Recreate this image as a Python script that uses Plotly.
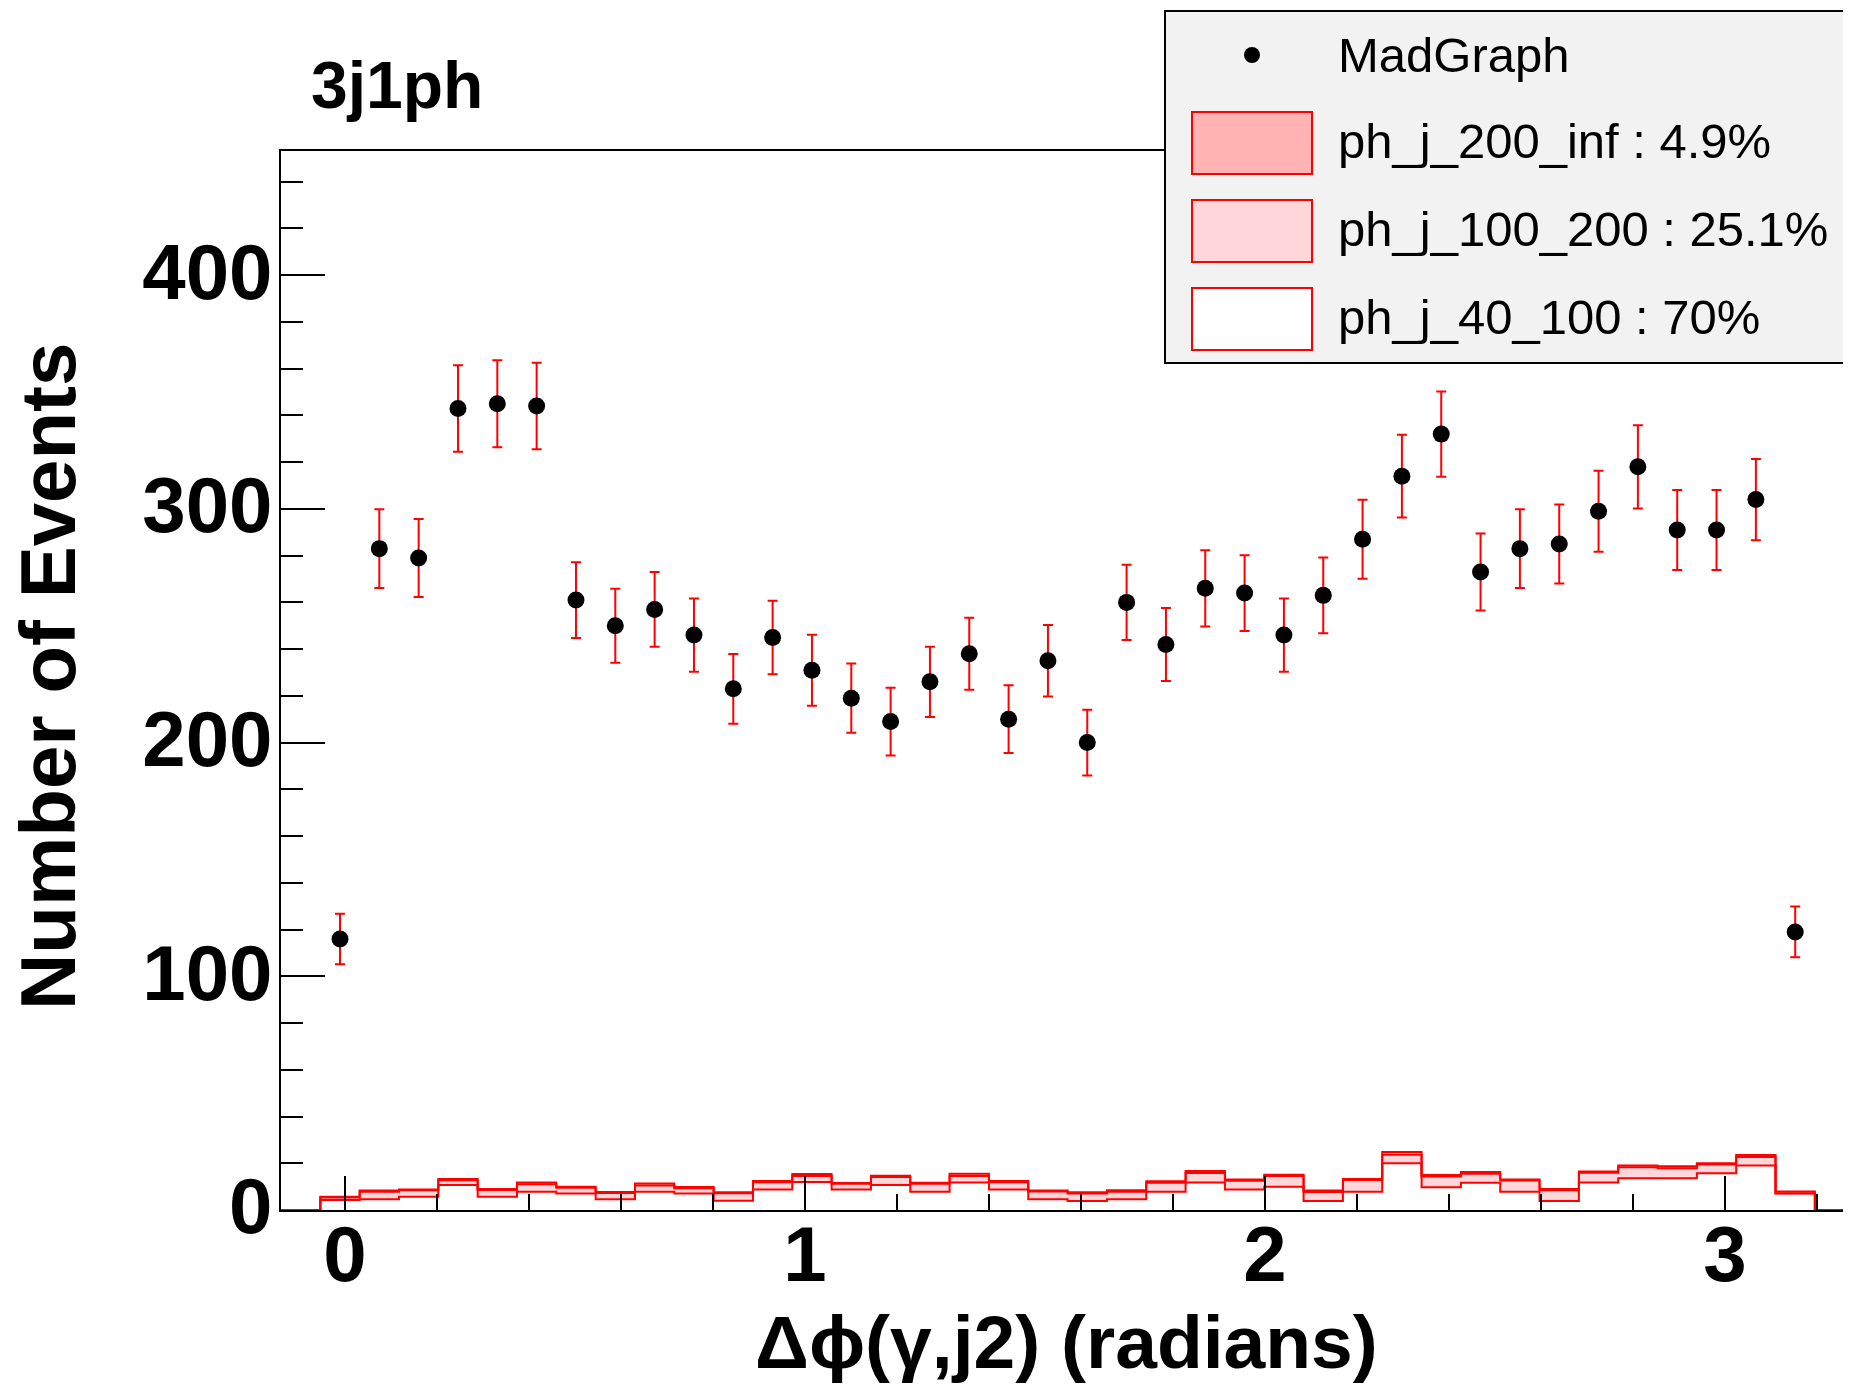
import numpy as np
import plotly.graph_objects as go

# ---------------- data ----------------
x_min = -0.139
bin_width = 0.0855
n_bins = 40  # bins 1..38 hold events; bins 0 and 39 are empty

madgraph_counts = [116, 283, 279, 343, 345, 344, 261, 250, 257, 246, 223, 245, 231, 219,
                   209, 226, 238, 210, 235, 200, 260, 242, 266, 264, 246, 263, 287, 314,
                   332, 273, 283, 285, 299, 318, 291, 291, 304, 119]
madgraph_errors = [10.8, 16.8, 16.7, 18.5, 18.6, 18.5, 16.2, 15.8, 16.0, 15.7, 14.9, 15.7,
                   15.2, 14.8, 14.5, 15.0, 15.4, 14.5, 15.3, 14.1, 16.1, 15.6, 16.3, 16.2,
                   15.7, 16.2, 16.9, 17.7, 18.2, 16.5, 16.8, 16.9, 17.3, 17.8, 17.1, 17.1,
                   17.4, 10.9]

ph_j_40_100 = [4.3, 4.6, 5.7, 10.7, 5.7, 7.8, 7.1, 4.6, 7.8, 7.1, 4.0, 8.8, 12.0, 8.8,
               10.7, 7.8, 11.8, 8.8, 4.6, 3.9, 4.6, 7.8, 11.8, 8.8, 10.0, 3.9, 7.8, 20.0,
               9.7, 11.7, 7.8, 3.9, 11.8, 13.6, 13.6, 15.7, 19.0, 7.1]
ph_j_100_200 = [1.1, 3.2, 2.7, 2.0, 2.9, 3.2, 2.4, 2.7, 2.7, 2.2, 3.2, 3.1, 2.5, 2.4,
                3.4, 3.4, 2.8, 3.1, 3.3, 3.2, 3.2, 3.9, 4.0, 3.7, 4.5, 3.8, 5.0, 3.6,
                4.6, 3.8, 4.8, 4.6, 4.1, 4.7, 4.3, 3.8, 3.7, 0.1]
ph_j_200_inf = [0.3, 0.5, 0.4, 0.6, 0.4, 0.8, 0.5, 0.4, 0.8, 0.5, 0.4, 0.5, 0.9, 0.4,
                0.6, 0.5, 0.9, 0.5, 0.4, 0.5, 0.6, 0.6, 0.9, 0.6, 0.6, 0.6, 0.5, 1.2,
                0.7, 0.8, 0.5, 0.5, 0.6, 0.7, 0.8, 0.5, 0.8, 0.7]

legend_labels = ["MadGraph", "ph_j_200_inf : 4.9%", "ph_j_100_200 : 25.1%", "ph_j_40_100 : 70%"]
x_ticks = [0, 1, 2, 3]
y_ticks = [0, 100, 200, 300, 400]

# ---------------- layout geometry ----------------
# the page body has an 8px margin, so the figure is drawn 8px in from the window corner
OFF = 8
W, H = 1851 - OFF, 1378
L, R, T = 281 - OFF, 0, 151 - OFF
PH = 1059
B = H - T - PH
PW = W - L - R
x_range = [x_min, x_min + PW / 460.0]
y_range = [0, PH / 2.337]


def pxp(x):  # window pixel x -> paper
    return (x - OFF - L) / PW


def pyp(y):  # window pixel y -> paper
    return (H - B - (y - OFF)) / PH


edges = x_min + bin_width * np.arange(n_bins + 1)
centers = x_min + bin_width * (np.arange(1, 39) + 0.5)


def pad(vals):
    return np.array([0.0] + list(vals) + [0.0])


c1 = pad(ph_j_40_100)
c2 = c1 + pad(ph_j_100_200)
c3 = c2 + pad(ph_j_200_inf)


def step(y):
    return list(y) + [y[-1]]


fig = go.Figure()
fig.add_trace(go.Scatter(x=edges, y=step(np.zeros(n_bins)), mode="lines",
                         line=dict(width=0, shape="hv"), showlegend=False, hoverinfo="skip"))
fig.add_trace(go.Scatter(x=edges, y=step(c1), mode="lines", fill="tonexty", fillcolor="white",
                         line=dict(color="red", width=2, shape="hv"), name=legend_labels[3]))
fig.add_trace(go.Scatter(x=edges, y=step(c2), mode="lines", fill="tonexty", fillcolor="#ffd6d9",
                         line=dict(color="red", width=2, shape="hv"), name=legend_labels[2]))
fig.add_trace(go.Scatter(x=edges, y=step(c3), mode="lines", fill="tonexty", fillcolor="#ffb3b3",
                         line=dict(color="red", width=2, shape="hv"), name=legend_labels[1]))
fig.add_trace(go.Scatter(x=centers, y=madgraph_counts, mode="markers",
                         marker=dict(color="black", size=17),
                         error_y=dict(type="data", array=madgraph_errors, color="red",
                                      thickness=2, width=5),
                         name=legend_labels[0]))

tickfont = dict(family="Liberation Sans, Arial, sans-serif", size=78, color="black", weight="bold")

fig.update_layout(
    width=W, height=H,
    margin=dict(l=L, r=R, t=T, b=B, autoexpand=False),
    paper_bgcolor="white", plot_bgcolor="white",
    showlegend=False,
    xaxis=dict(range=x_range, showline=True, linecolor="black", linewidth=2, mirror=True,
               ticks="inside", ticklen=34, tickwidth=2, tickcolor="black",
               tickmode="array", tickvals=x_ticks, ticktext=[str(v) for v in x_ticks],
               minor=dict(dtick=0.2, tick0=0, ticks="inside", ticklen=16, tickwidth=2,
                          tickcolor="black"),
               showgrid=False, zeroline=False, tickfont=tickfont, ticklabelstandoff=-25),
    yaxis=dict(range=y_range, showline=True, linecolor="black", linewidth=2,
               ticks="inside", ticklen=44, tickwidth=2, tickcolor="black",
               tickmode="array", tickvals=y_ticks, ticktext=[str(v) for v in y_ticks],
               minor=dict(dtick=20, tick0=0, ticks="inside", ticklen=22, tickwidth=2,
                          tickcolor="black"),
               showgrid=False, zeroline=False, tickfont=tickfont, ticklabelstandoff=-9,
               ticklabelshift=-4),
)

shapes = []
# legend frame
shapes.append(dict(type="rect", xref="paper", yref="paper",
                   x0=pxp(1165), x1=pxp(1870), y0=pyp(363), y1=pyp(11),
                   fillcolor="#f2f2f2", line=dict(color="black", width=2), layer="above"))
box_fills = ["#ffb3b3", "#ffd6d9", "white"]
box_tops = [112, 200, 288]
for f, t in zip(box_fills, box_tops):
    shapes.append(dict(type="rect", xref="paper", yref="paper",
                       x0=pxp(1192), x1=pxp(1312), y0=pyp(t + 62), y1=pyp(t),
                       fillcolor=f, line=dict(color="red", width=2), layer="above"))
shapes.append(dict(type="circle", xref="paper", yref="paper",
                   x0=pxp(1244), x1=pxp(1260), y0=pyp(63), y1=pyp(47),
                   fillcolor="black", line=dict(color="black", width=0), layer="above"))
fig.update_layout(shapes=shapes)

annotations = []
legfont = dict(family="Liberation Sans, Arial, sans-serif", size=49, color="black")
for lab, yc in zip(legend_labels, [55, 141, 229, 317]):
    annotations.append(dict(text=lab, xref="paper", yref="paper", x=pxp(1336), y=pyp(yc),
                            xanchor="left", yanchor="middle", showarrow=False, font=legfont))
boldfont = dict(family="Liberation Sans, Arial, sans-serif", size=78, color="black", weight="bold")
annotations.append(dict(text="Number of Events", xref="paper", yref="paper",
                        x=pxp(48), y=pyp(677), xanchor="center", yanchor="middle",
                        textangle=-90, showarrow=False, font=boldfont))
annotations.append(dict(text="\u0394\u03d5(\u03b3,j2) (radians)", xref="paper", yref="paper",
                        x=pxp(1066), y=pyp(1342), xanchor="center", yanchor="middle",
                        showarrow=False,
                        font=dict(family="Liberation Sans, Arial, sans-serif", size=75,
                                  color="black", weight="bold")))
annotations.append(dict(text="3j1ph", xref="paper", yref="paper",
                        x=pxp(309), y=pyp(85), xanchor="left", yanchor="middle",
                        showarrow=False,
                        font=dict(family="Liberation Sans, Arial, sans-serif", size=66,
                                  color="black", weight="bold")))
fig.update_layout(annotations=annotations)

fig.write_html("out.html")
